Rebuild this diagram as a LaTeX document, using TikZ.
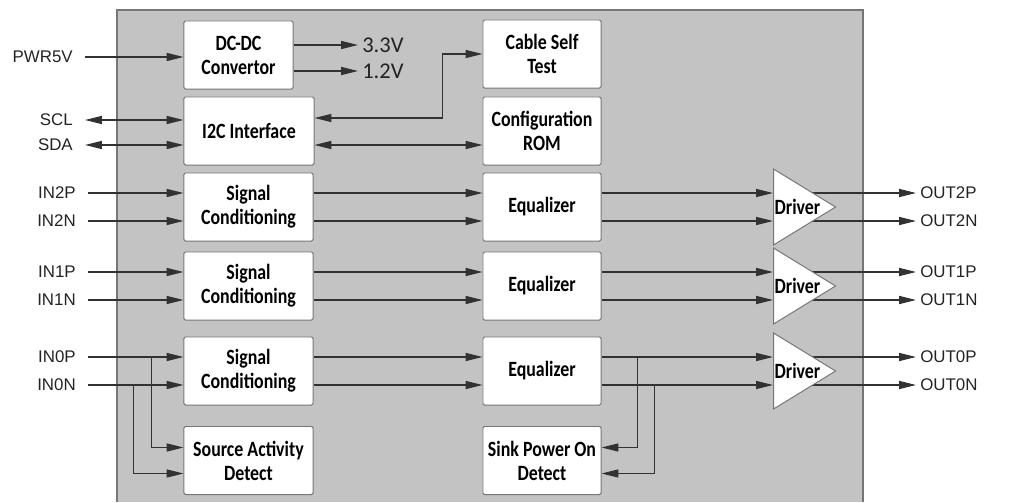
\documentclass[tikz,border=0pt]{standalone}
\usepackage{fontspec}
\setmainfont{Liberation Sans}
\newfontfamily\blkfont[FakeStretch=0.82]{Carlito}
\newfontfamily\voltfont{Carlito}
\usetikzlibrary{arrows.meta,positioning,calc,shapes.geometric}
\definecolor{panelgray}{RGB}{195,195,195}
\definecolor{rimgray}{RGB}{118,118,118}
\definecolor{wiregray}{RGB}{50,50,50}
\definecolor{inkgray}{RGB}{35,35,35}
\pgfdeclarelayer{panel}
\pgfdeclarelayer{wires}
\pgfsetlayers{panel,wires,main}
\tikzset{
  >={Triangle[length=0.42cm,width=0.2cm]},
  blk/.style={draw=rimgray,fill=white,line width=0.7pt,rounded corners=1pt,
    minimum height=1.7cm,align=center,text=black,
    font=\blkfont\bfseries\fontsize{15.5}{17}\selectfont},
  drv/.style={isosceles triangle,isosceles triangle stretches,draw=rimgray,
    fill=white,line width=0.7pt,minimum height=1.55cm,minimum width=1.9cm,
    inner sep=0pt,anchor=west},
  drvlbl/.style={anchor=west,inner sep=1pt,text=black,
    font=\blkfont\bfseries\fontsize{15.5}{17}\selectfont},
  pinL/.style={anchor=east,inner xsep=0.3cm,inner ysep=0pt,text=inkgray,
    font=\fontsize{12}{14}\selectfont},
  pinR/.style={anchor=west,inner xsep=0.1cm,inner ysep=0pt,text=inkgray,
    font=\fontsize{12}{14}\selectfont},
  volt/.style={anchor=west,inner xsep=0.1cm,inner ysep=0pt,text=inkgray,
    font=\voltfont\fontsize{16}{18}\selectfont},
  wire/.style={draw=wiregray,line width=0.8pt},
}
\begin{document}
\begin{tikzpicture}[x=0.025cm,y=-0.025cm]
  \useasboundingbox (0,0) rectangle (1030,502);
  \begin{pgfonlayer}{panel}
    \fill[panelgray] (117,10) rectangle (863,502);
    \draw[rimgray,line width=1pt] (117,502) -- (117,10) -- (863,10) -- (863,502);
  \end{pgfonlayer}
  % control and power blocks
  \node[blk,minimum width=2.725cm] (dcdc) at (238.5,55) {DC-DC\\Convertor};
  \node[blk,minimum width=3.25cm] (i2c) at (249,131) {I2C Interface};
  \node[blk,minimum width=2.95cm] (cst) at (542,54) {Cable Self\\Test};
  \node[blk,minimum width=2.95cm] (rom) at (542,131) {Configuration\\ROM};
  \node[blk,minimum width=3.225cm] (sad) at (248.5,460.5) {Source Activity\\Detect};
  \node[blk,minimum width=2.95cm] (spd) at (542,460.5) {Sink Power On\\Detect};
  \node[pinL] (pwr) at (85,57) {PWR5V};
  \node[pinL] (scl) at (85,120) {SCL};
  \node[pinL] (sda) at (85,145) {SDA};
  \node[volt] (v33) at (358,45) {3.3V};
  \node[volt] (v12) at (358,71) {1.2V};
  % three lanes
  \foreach \k/\yy in {2/207,1/286,0/371}{%
    \node[blk,minimum width=3.225cm] (sig\k) at (248.5,\yy) {Signal\\Conditioning};
    \node[blk,minimum width=2.95cm] (eq\k) at (542,\yy) {Equalizer};
    \node[drv] (drv\k) at (773,\yy) {};
    \node[drvlbl] (drvlbl\k) at (drv\k.west) {Driver};
    \node[pinL] (in\k p) at (88,\yy-14) {IN\k P};
    \node[pinL] (in\k n) at (88,\yy+14) {IN\k N};
    \node[pinR] (out\k p) at (916,\yy-14) {OUT\k P};
    \node[pinR] (out\k n) at (916,\yy+14) {OUT\k N};
  }
  \begin{pgfonlayer}{wires}
    \draw[wire,->] (pwr.east) -- (pwr.east -| dcdc.west);
    \draw[wire,->] (v33.west -| dcdc.east) -- (v33.west);
    \draw[wire,->] (v12.west -| dcdc.east) -- (v12.west);
    \draw[wire,<->] (scl.east) -- (scl.east -| i2c.west);
    \draw[wire,<->] (sda.east) -- (sda.east -| i2c.west);
    \draw[wire,<->] ([shift={(0,-13)}]i2c.east) -- ++(128,0) |- (cst.west);
    \draw[wire,<->] ([shift={(0,14)}]i2c.east) -- ([shift={(0,14)}]rom.west);
    \foreach \k in {2,1,0}{%
      \draw[wire,->] (in\k p.east) -- (in\k p.east -| sig\k.west);
      \draw[wire,->] (in\k n.east) -- (in\k n.east -| sig\k.west);
      \draw[wire,->] ([shift={(0,-14)}]sig\k.east) -- ([shift={(0,-14)}]eq\k.west);
      \draw[wire,->] ([shift={(0,14)}]sig\k.east) -- ([shift={(0,14)}]eq\k.west);
      \draw[wire,->] ([shift={(0,-14)}]eq\k.east) -- ([shift={(0,-14)}]drv\k.west);
      \draw[wire,->] ([shift={(0,14)}]eq\k.east) -- ([shift={(0,14)}]drv\k.west);
      \draw[wire,->] (out\k p.west -| drv\k.west) -- (out\k p.west);
      \draw[wire,->] (out\k n.west -| drv\k.west) -- (out\k n.west);
    }
    % detect taps on lane 0
    \draw[wire,->] (in0p.east -| sad.west) ++(-32,0) |- ([shift={(0,-13)}]sad.west);
    \draw[wire,->] (in0n.east -| sad.west) ++(-50,0) |- ([shift={(0,13)}]sad.west);
    \draw[wire,->] ([shift={(0,-14)}]eq0.east) ++(36,0) |- ([shift={(0,-13)}]spd.east);
    \draw[wire,->] ([shift={(0,14)}]eq0.east) ++(53,0) |- ([shift={(0,13)}]spd.east);
  \end{pgfonlayer}
\end{tikzpicture}
\end{document}
